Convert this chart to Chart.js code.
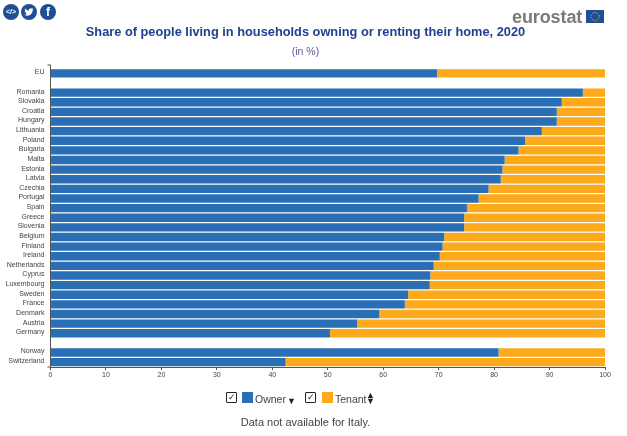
<!DOCTYPE html>
<html lang="en">

<head>
  <meta charset="UTF-8">
  <title>Share of people living in households owning or renting their home, 2020</title>
  <style>
    html, body { margin: 0; padding: 0; background: #fff; }
    body { width: 627px; height: 436px; position: relative; overflow: hidden; font-family: "Liberation Sans", Arial, sans-serif; }
    canvas { position: absolute; left: 0; top: 0; }
    .titulo { position: absolute; left: 0; width: 611px; top: 24px; text-align: center; font-size: 12.8px; font-weight: bold; color: #21418f; }
    .subtitulo { position: absolute; left: 0; width: 611px; top: 45px; text-align: center; font-size: 10.5px; color: #5b5a94; }
    .social { position: absolute; top: 4px; width: 16px; height: 16px; border-radius: 50%; background: #1c4f94; color: #fff; text-align: center; line-height: 16px; font-size: 10px; font-weight: bold; }
    .logo { position: absolute; left: 512px; top: 7px; font-size: 18px; font-weight: bold; color: #7a7a7a; letter-spacing: -0.1px; }
    .bandeira { position: absolute; left: 586px; top: 10px; }
    .legenda { position: absolute; top: 393px; font-size: 10.5px; color: #444; }
    .check { position: absolute; top: 392px; width: 9px; height: 9px; border: 1.5px solid #222; border-radius: 1px; font-size: 9px; line-height: 9px; text-align: center; color: #222; }
    .cor { position: absolute; top: 392px; width: 11px; height: 11px; }
    .seta { position: absolute; font-size: 9px; color: #222; line-height: 6px; }
    .nota { position: absolute; left: 0; width: 611px; top: 416px; text-align: center; font-size: 11px; color: #444; }
  </style>
</head>

<body>
  <canvas id="grafico" width="627" height="436"></canvas>

  <div class="social" style="left:3px;font-size:7px">&lt;/&gt;</div>
  <div class="social" style="left:21px">
    <svg width="10" height="10" viewBox="0 0 24 24" style="margin-top:3px"><path fill="#fff" d="M23 5a9 9 0 0 1-2.6.7A4.5 4.5 0 0 0 22.400 3.200a9 9 0 0 1-2.900 1.100 4.500 4.500 0 0 0-7.700 4.100A12.800 12.800 0 0 1 2.500 3.700a4.500 4.500 0 0 0 1.400 6 4.500 4.500 0 0 1-2-.6c0 2.200 1.500 4.100 3.600 4.500a4.500 4.500 0 0 1-2 .1 4.500 4.500 0 0 0 4.200 3.100A9 9 0 0 1 1 18.700 12.800 12.800 0 0 0 20.700 7.300 9 9 0 0 0 23 5z"/></svg>
  </div>
  <div class="social" style="left:40px;font-size:12px">f</div>

  <div class="logo">eurostat</div>
  <svg class="bandeira" width="18" height="13" viewBox="0 0 18 13">
    <rect width="18" height="13" fill="#1f4f9c"/>
    <circle cx="9" cy="6.500" r="4" fill="none" stroke="#e8c62e" stroke-width="1" stroke-dasharray="1 1.100"/>
  </svg>

  <div class="titulo">Share of people living in households owning or renting their home, 2020</div>
  <div class="subtitulo">(in %)</div>

  <div class="check" style="left:226px">&#10003;</div>
  <div class="cor" style="left:242px;background:#2a6fb6"></div>
  <div class="legenda" style="left:255px">Owner</div>
  <div class="seta" style="left:287px;top:398px">&#9660;</div>
  <div class="check" style="left:305px">&#10003;</div>
  <div class="cor" style="left:322px;background:#fda91c"></div>
  <div class="legenda" style="left:335px">Tenant</div>
  <div class="seta" style="left:366px;top:392px">&#9650;<br>&#9660;</div>

  <div class="nota">Data not available for Italy.</div>
</body>

</html>
<script src="https://cdn.jsdelivr.net/npm/chart.js"></script>

<script>
  // Categorias: as vazias fazem os espaços entre EU, países e EFTA
  var paises = [
    'EU', '',
    'Romania', 'Slovakia', 'Croatia', 'Hungary', 'Lithuania', 'Poland', 'Bulgaria', 'Malta',
    'Estonia', 'Latvia', 'Czechia', 'Portugal', 'Spain', 'Greece', 'Slovenia', 'Belgium',
    'Finland', 'Ireland', 'Netherlands', 'Cyprus', 'Luxembourg', 'Sweden', 'France',
    'Denmark', 'Austria', 'Germany', '',
    'Norway', 'Switzerland'
  ];
  var owner = [
    69.7, null,
    96.0, 92.2, 91.3, 91.3, 88.6, 85.6, 84.4, 81.9,
    81.5, 81.2, 79.0, 77.2, 75.1, 74.6, 74.6, 71.0,
    70.7, 70.2, 69.1, 68.5, 68.4, 64.5, 63.9,
    59.3, 55.3, 50.4, null,
    80.8, 42.4
  ];
  var tenant = [
    30.3, null,
    4.0, 7.8, 8.7, 8.7, 11.4, 14.4, 15.6, 18.1,
    18.5, 18.8, 21.0, 22.8, 24.9, 25.4, 25.4, 29.0,
    29.3, 29.8, 30.9, 31.5, 31.6, 35.5, 36.1,
    40.7, 44.7, 49.6, null,
    19.2, 57.6
  ];

  // Prolonga a linha do eixo Y um pouco acima da primeira barra e fecha embaixo
  var eixoTopo = {
    id: 'eixoTopo',
    afterDraw: function (chart) {
      var ctx = chart.ctx;
      var area = chart.chartArea;
      ctx.save();
      ctx.strokeStyle = '#555';
      ctx.lineWidth = 1;
      ctx.beginPath();
      ctx.moveTo(area.left - 3, area.top - 3.5);
      ctx.lineTo(area.left, area.top - 3.5);
      ctx.lineTo(area.left, area.top);
      ctx.moveTo(area.left - 3, area.bottom);
      ctx.lineTo(area.left, area.bottom);
      ctx.stroke();
      ctx.restore();
    }
  };

  var grafico = new Chart(document.getElementById('grafico'), {
    type: 'bar',
    data: {
      labels: paises,
      datasets: [
        { label: 'Owner', data: owner, backgroundColor: '#2a6fb6', barPercentage: 0.87, categoryPercentage: 1 },
        { label: 'Tenant', data: tenant, backgroundColor: '#fda91c', barPercentage: 0.87, categoryPercentage: 1 }
      ]
    },
    options: {
      indexAxis: 'y',
      responsive: false,
      animation: false,
      devicePixelRatio: 1,
      layout: { padding: { top: 68.5, right: 22, bottom: 49, left: 0 } },
      plugins: {
        legend: { display: false },
        title: { display: false },
        tooltip: { enabled: false }
      },
      scales: {
        x: {
          stacked: true,
          min: 0,
          max: 100,
          grid: { drawOnChartArea: false, tickLength: 3, color: '#555' },
          border: { color: '#555' },
          ticks: { stepSize: 10, maxRotation: 0, padding: 1, color: '#444', font: { size: 7, family: 'Liberation Sans' } },
          afterFit: function (eixo) { eixo.height = 20; }
        },
        y: {
          stacked: true,
          grid: { display: false, drawTicks: false },
          border: { color: '#555' },
          ticks: { autoSkip: false, padding: 6, labelOffset: -1, color: '#444', font: { size: 7, family: 'Liberation Sans' } },
          afterFit: function (eixo) { eixo.width = 50.5; }
        }
      }
    },
    plugins: [eixoTopo]
  });
</script>
